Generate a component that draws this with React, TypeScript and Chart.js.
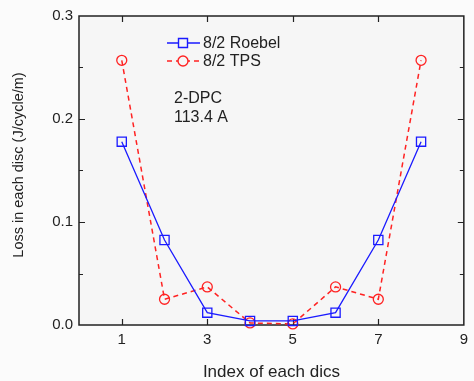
import React, { useEffect, useRef } from "react";
import { Chart, registerables } from "chart.js";

Chart.register(...registerables);

const indices = [1, 2, 3, 4, 5, 6, 7, 8];
const roebelLoss = [0.178, 0.0825, 0.012, 0.004, 0.004, 0.012, 0.0825, 0.178];
const tpsLoss = [0.257, 0.025, 0.037, 0.002, 0.001, 0.037, 0.025, 0.257];
const seriesNames = ["8/2 Roebel", "8/2 TPS"];
const xTickValues = [1, 3, 5, 7, 9];
const yTickValues = [0, 0.1, 0.2, 0.3];
const noteLines = ["2-DPC", "113.4 A"];
const xTitle = "Index of each dics";
const yTitle = "Loss in each disc (J/cycle/m)";

const FONT = "'Liberation Sans', Arial, sans-serif";
const TEXT = "#222222";
const BLUE = "#1a1aff";
const RED = "#ff2222";

export default function App() {
  const ref = useRef<HTMLCanvasElement | null>(null);

  useEffect(() => {
    document.body.style.margin = "0";
    document.body.style.background = "#ffffff";
    const canvas = ref.current;
    if (!canvas) return;

    const framePlugin = {
      id: "framePlugin",
      beforeDraw(chart: any) {
        const { ctx, chartArea: a } = chart;
        ctx.save();
        ctx.fillStyle = "#fbfbfb";
        ctx.fillRect(0, 0, chart.width, chart.height);
        ctx.fillStyle = "#f6f6f6";
        ctx.fillRect(a.left, a.top, a.right - a.left, a.bottom - a.top);
        ctx.restore();
      },
      beforeDatasetsDraw(chart: any) {
        const { ctx, chartArea: a, scales } = chart;
        const xs = scales.x;
        const ys = scales.y;
        ctx.save();
        ctx.strokeStyle = "#222222";
        ctx.lineWidth = 1.5;
        ctx.strokeRect(a.left, a.top, a.right - a.left, a.bottom - a.top);
        ctx.lineWidth = 1.2;
        ctx.beginPath();
        for (const v of xTickValues) {
          const px = Math.round(xs.getPixelForValue(v)) + 0.5;
          if (px > a.right - 2) continue;
          ctx.moveTo(px, a.bottom);
          ctx.lineTo(px, a.bottom - 6);
          ctx.moveTo(px, a.top);
          ctx.lineTo(px, a.top + 6);
        }
        for (let k = 1; k < 6; k++) {
          const v = k * 0.05;
          const len = k % 2 === 0 ? 6 : 4;
          const py = Math.round(ys.getPixelForValue(v)) + 0.5;
          ctx.moveTo(a.left, py);
          ctx.lineTo(a.left + len, py);
          ctx.moveTo(a.right, py);
          ctx.lineTo(a.right - len, py);
        }
        ctx.stroke();
        ctx.restore();
      },
      afterDraw(chart: any) {
        const { ctx } = chart;
        ctx.save();
        // y-axis title
        ctx.save();
        ctx.translate(19, 165);
        ctx.rotate(-Math.PI / 2);
        ctx.fillStyle = TEXT;
        ctx.font = `14.5px ${FONT}`;
        ctx.textAlign = "center";
        ctx.textBaseline = "middle";
        ctx.fillText(yTitle, 0, 0);
        ctx.restore();
        // legend
        const rows = [
          { name: seriesNames[0], color: BLUE, dash: [] as number[], style: "rect", y: 43 },
          { name: seriesNames[1], color: RED, dash: [5, 4], style: "circle", y: 61 },
        ];
        for (const r of rows) {
          ctx.strokeStyle = r.color;
          ctx.lineWidth = 1.4;
          ctx.setLineDash(r.dash);
          ctx.beginPath();
          ctx.moveTo(167, r.y);
          ctx.lineTo(200, r.y);
          ctx.stroke();
          ctx.setLineDash([]);
          ctx.fillStyle = "#f6f6f6";
          ctx.beginPath();
          if (r.style === "rect") {
            ctx.rect(178.5, r.y - 4.5, 9, 9);
          } else {
            ctx.arc(183, r.y, 5, 0, Math.PI * 2);
          }
          ctx.fill();
          ctx.stroke();
          ctx.fillStyle = TEXT;
          ctx.font = `16px ${FONT}`;
          ctx.textAlign = "left";
          ctx.textBaseline = "middle";
          ctx.fillText(r.name, 203, r.y + 1);
        }
        ctx.font = `16px ${FONT}`;
        ctx.fillStyle = TEXT;
        ctx.textBaseline = "middle";
        ctx.fillText(noteLines[0], 174, 99);
        ctx.fillText(noteLines[1], 174, 118);
        ctx.restore();
      },
    };

    const chart = new Chart(canvas, {
      type: "line",
      data: {
        labels: indices,
        datasets: [
          {
            label: seriesNames[0],
            data: indices.map((x, i) => ({ x, y: roebelLoss[i] })),
            borderColor: BLUE,
            backgroundColor: "#f6f6f6",
            borderWidth: 1.3,
            pointStyle: "rect",
            pointRadius: 6.5,
            pointBorderWidth: 1.3,
            pointBorderColor: BLUE,
            pointBackgroundColor: "rgba(0,0,0,0)",
            tension: 0,
            clip: false,
          },
          {
            label: seriesNames[1],
            data: indices.map((x, i) => ({ x, y: tpsLoss[i] })),
            borderColor: RED,
            backgroundColor: "#f6f6f6",
            borderWidth: 1.5,
            borderDash: [5, 4],
            pointStyle: "circle",
            pointRadius: 5,
            pointBorderWidth: 1.3,
            pointBorderColor: RED,
            pointBackgroundColor: "rgba(0,0,0,0)",
            tension: 0,
            clip: false,
          },
        ],
      },
      options: {
        responsive: false,
        animation: false,
        devicePixelRatio: 1,
        layout: { padding: { top: 16, right: 3, left: 0, bottom: 0 } },
        plugins: {
          legend: { display: false },
          tooltip: { enabled: false },
        },
        scales: {
          x: {
            type: "linear",
            min: 0,
            max: 9,
            afterFit: (s: any) => {
              s.height = 56;
            },
            afterBuildTicks: (s: any) => {
              s.ticks = xTickValues.map((v) => ({ value: v }));
            },
            grid: { display: false, drawTicks: false },
            border: { display: false },
            ticks: {
              autoSkip: false,
              maxRotation: 0,
              padding: 6,
              color: TEXT,
              font: { family: FONT, size: 15 },
            },
            title: {
              display: true,
              text: xTitle,
              color: TEXT,
              font: { family: FONT, size: 17, lineHeight: 1 },
              padding: { top: 0, bottom: 0 },
            },
          },
          y: {
            type: "linear",
            min: 0,
            max: 0.3,
            afterFit: (s: any) => {
              s.width = 79;
            },
            afterBuildTicks: (s: any) => {
              s.ticks = yTickValues.map((v) => ({ value: v }));
            },
            grid: { display: false, drawTicks: false },
            border: { display: false },
            ticks: {
              padding: 6,
              color: TEXT,
              font: { family: FONT, size: 15 },
              callback: (v: any) => Number(v).toFixed(1),
            },
          },
        },
      },
      plugins: [framePlugin],
    });

    return () => chart.destroy();
  }, []);

  return (
    <canvas
      ref={ref}
      width={474}
      height={381}
      style={{ display: "block", width: 474, height: 381 }}
    />
  );
}
